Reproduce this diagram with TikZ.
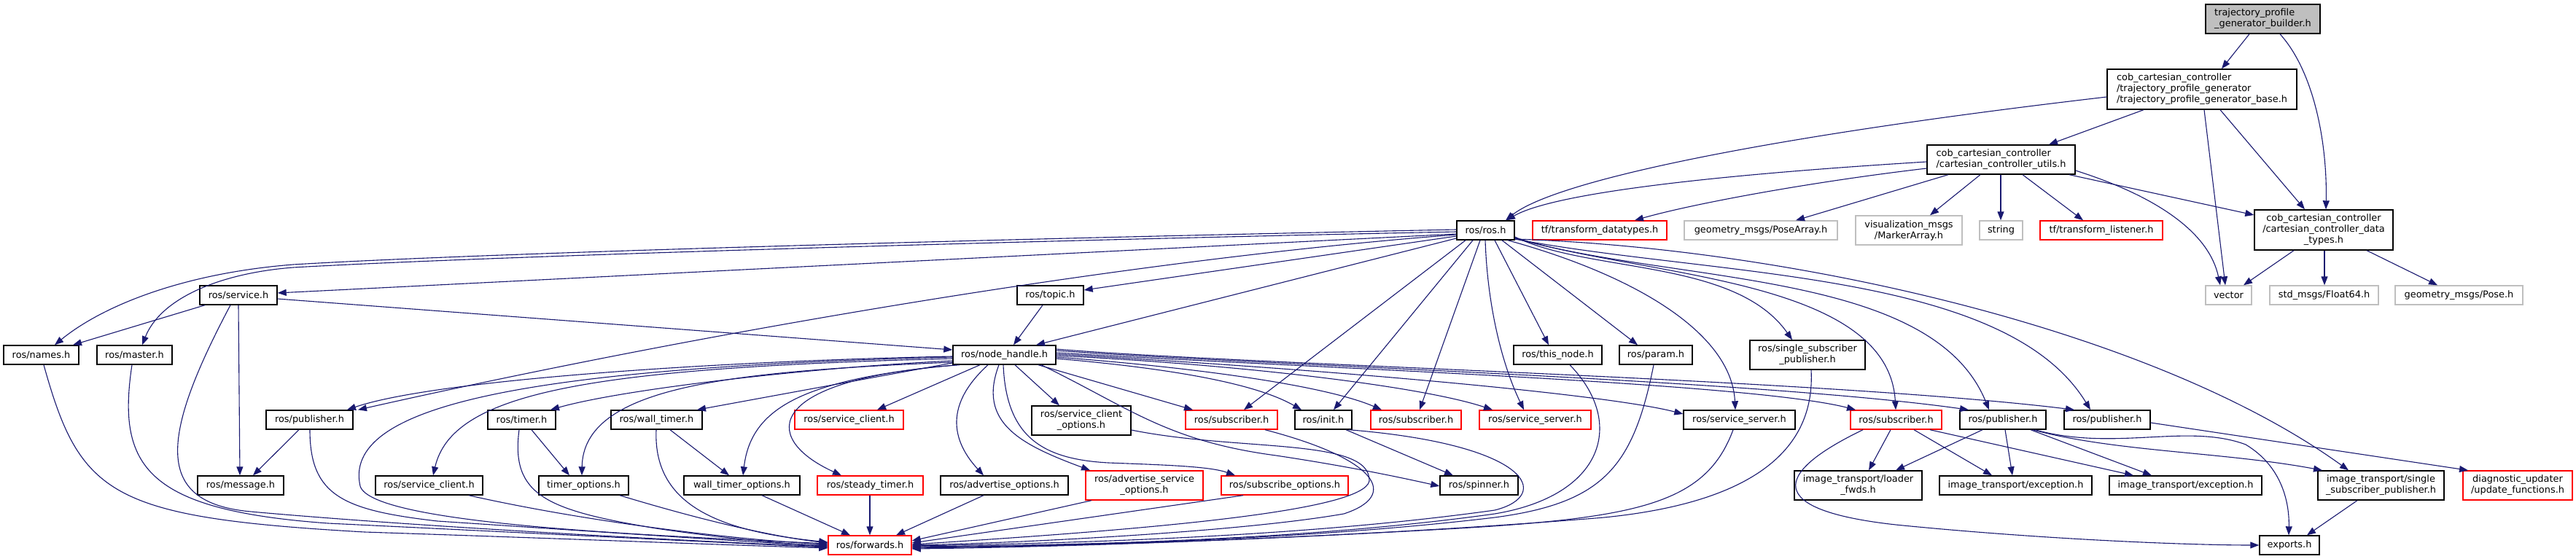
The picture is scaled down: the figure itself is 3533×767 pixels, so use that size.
\documentclass[tikz,border=0pt]{standalone}
\usepackage{fontspec}
\setmainfont{DejaVu Sans}
\usetikzlibrary{arrows.meta}
\definecolor{edgec}{HTML}{191970}
\definecolor{grayb}{HTML}{BFBFBF}
\newcommand\dgbox[7]{\node[#6, minimum width={(#3-#2)*1pt}, minimum height={(#5-#4)*1pt}] (#1) at ({(#2+#3)/2},{(#4+#5)/2}) {#7};}
\begin{document}
\begin{tikzpicture}[x=1pt,y=-1pt,
  bk/.style={draw=black, line width=1.4pt, inner sep=0pt, align=center, font=\fontsize{12.9}{15}\selectfont},
  rd/.style={bk, draw=red},
  gy/.style={bk, draw=grayb},
  rt/.style={bk, fill=grayb},
  e/.style={draw=edgec, line width=1.1pt, -{Triangle[length=12pt,width=9pt]}}]
\path[fill=white, use as bounding box] (0,0) rectangle (3533,767);
% nodes
\dgbox{builder}{3025}{3182}{6}{46}{rt, align=left}{trajectory\_profile\\\_generator\_builder.h}
\dgbox{base}{2890}{3150}{95}{150}{bk, align=left}{cob\_cartesian\_controller\\/trajectory\_profile\_generator\\/trajectory\_profile\_generator\_base.h}
\dgbox{utils}{2643}{2846}{199}{239}{bk, align=left}{cob\_cartesian\_controller\\/cartesian\_controller\_utils.h}
\dgbox{rosh}{1998}{2077}{303}{329}{bk}{ros/ros.h}
\dgbox{tfd}{2102}{2286}{303}{329}{rd}{tf/transform\_datatypes.h}
\dgbox{posearr}{2310}{2520}{303}{329}{gy}{geometry\_msgs/PoseArray.h}
\dgbox{marker}{2545}{2691}{296}{336}{gy}{visualization\_msgs\\/MarkerArray.h}
\dgbox{string}{2715}{2774}{303}{329}{gy}{string}
\dgbox{listener}{2798}{2966}{303}{329}{rd}{tf/transform\_listener.h}
\dgbox{dtypes}{3092}{3282}{288}{343}{bk}{cob\_cartesian\_controller\\/cartesian\_controller\_data\\\_types.h}
\dgbox{service}{274}{380}{392}{418}{bk}{ros/service.h}
\dgbox{topic}{1395}{1486}{392}{418}{bk}{ros/topic.h}
\dgbox{vector}{3025}{3088}{392}{418}{gy}{vector}
\dgbox{float}{3113}{3262}{392}{418}{gy}{std\_msgs/Float64.h}
\dgbox{pose}{3285}{3460}{392}{418}{gy}{geometry\_msgs/Pose.h}
\dgbox{names}{5}{108}{474}{500}{bk}{ros/names.h}
\dgbox{master}{133}{236}{474}{500}{bk}{ros/master.h}
\dgbox{nh}{1307}{1448}{474}{500}{bk}{ros/node\_handle.h}
\dgbox{thisnode}{2076}{2197}{474}{500}{bk}{ros/this\_node.h}
\dgbox{param}{2221}{2321}{474}{500}{bk}{ros/param.h}
\dgbox{ssp}{2400}{2558}{467}{507}{bk}{ros/single\_subscriber\\\_publisher.h}
\dgbox{pubL}{365}{484}{563}{589}{bk}{ros/publisher.h}
\dgbox{timer}{669}{762}{563}{589}{bk}{ros/timer.h}
\dgbox{wtimer}{838}{963}{563}{589}{bk}{ros/wall\_timer.h}
\dgbox{scA}{1090}{1239}{563}{589}{rd}{ros/service\_client.h}
\dgbox{sco}{1415}{1551}{557}{597}{bk}{ros/service\_client\\\_options.h}
\dgbox{subA}{1626}{1752}{563}{589}{rd}{ros/subscriber.h}
\dgbox{init}{1776}{1854}{563}{589}{bk}{ros/init.h}
\dgbox{subB}{1880}{2004}{563}{589}{rd}{ros/subscriber.h}
\dgbox{ssA}{2029}{2182}{563}{589}{rd}{ros/service\_server.h}
\dgbox{ssB}{2309}{2462}{563}{589}{bk}{ros/service\_server.h}
\dgbox{subC}{2538}{2663}{563}{589}{rd}{ros/subscriber.h}
\dgbox{pubB}{2688}{2806}{563}{589}{bk}{ros/publisher.h}
\dgbox{pubC}{2831}{2949}{563}{589}{bk}{ros/publisher.h}
\dgbox{message}{271}{389}{653}{679}{bk}{ros/message.h}
\dgbox{scB}{515}{662}{653}{679}{bk}{ros/service\_client.h}
\dgbox{topt}{739}{862}{653}{679}{bk}{timer\_options.h}
\dgbox{wtopt}{938}{1097}{653}{679}{bk}{wall\_timer\_options.h}
\dgbox{steady}{1121}{1266}{653}{679}{rd}{ros/steady\_timer.h}
\dgbox{adv}{1290}{1465}{653}{679}{bk}{ros/advertise\_options.h}
\dgbox{aso}{1489}{1650}{646}{686}{rd}{ros/advertise\_service\\\_options.h}
\dgbox{subopt}{1675}{1849}{653}{679}{rd}{ros/subscribe\_options.h}
\dgbox{spinner}{1975}{2082}{653}{679}{bk}{ros/spinner.h}
\dgbox{loader}{2461}{2636}{646}{686}{bk}{image\_transport/loader\\\_fwds.h}
\dgbox{excA}{2660}{2869}{653}{679}{bk}{image\_transport/exception.h}
\dgbox{excB}{2893}{3102}{653}{679}{bk}{image\_transport/exception.h}
\dgbox{itssp}{3179}{3352}{646}{686}{bk}{image\_transport/single\\\_subscriber\_publisher.h}
\dgbox{diag}{3378}{3528}{646}{686}{rd}{diagnostic\_updater\\/update\_functions.h}
\dgbox{fwd}{1136}{1250}{735}{761}{rd}{ros/forwards.h}
\dgbox{exports}{3099}{3181}{735}{761}{bk}{exports.h}
% builder
\draw[e] (builder.south -| 3085,0) -- (base.north -| 3047,0);
\draw[e] (builder.south -| 3127,0) .. controls (3175,100) and (3192,200) .. (dtypes.north -| 3190,0);
% base
\draw[e] (base.west |- 0,133) .. controls (2400,190) and (2130,250) .. (rosh.north -| 2065,0);
\draw[e] (base.south -| 2940,0) -- (utils.north -| 2810,0);
\draw[e] (base.south -| 3023,0) -- (vector.north -| 3052,0);
\draw[e] (base.south -| 3045,0) -- (dtypes.north -| 3161,0);
% utils
\draw[e] (utils.west |- 0,222) .. controls (2350,240) and (2130,265) .. (rosh.north -| 2066,0);
\draw[e] (utils.west |- 0,231) .. controls (2480,250) and (2320,280) .. (tfd.north -| 2242,0);
\draw[e] (utils.south -| 2672,0) -- (posearr.north -| 2463,0);
\draw[e] (utils.south -| 2716,0) -- (marker.north -| 2647,0);
\draw[e] (utils.south -| 2744,0) -- (string.north -| 2744,0);
\draw[e] (utils.south -| 2774,0) -- (listener.north -| 2857,0);
\draw[e] (utils.south -| 2838,0) -- (dtypes.west |- 0,295);
\draw[e] (utils.east |- 0,234) .. controls (2960,270) and (3030,320) .. (vector.north -| 3045,0);
% data types
\draw[e] (dtypes.south -| 3146,0) -- (vector.north -| 3077,0);
\draw[e] (dtypes.south -| 3188,0) -- (float.north -| 3188,0);
\draw[e] (dtypes.south -| 3246,0) -- (pose.north -| 3343,0);
% ros.h to the left
\draw[e] (rosh.west |- 0,315) .. controls (1500,325) and (700,345) .. (402,363) .. controls (250,375) and (140,420) .. (names.north -| 75,0);
\draw[e] (rosh.west |- 0,318) .. controls (1500,328) and (700,350) .. (402,367) .. controls (300,375) and (220,410) .. (master.north -| 195,0);
\draw[e] (rosh.west |- 0,321) -- (service.east |- 0,402);
\draw[e] (rosh.west |- 0,324) -- (topic.east |- 0,398);
\draw[e] (rosh.west |- 0,327) -- (nh.north -| 1421,0);
\draw[e] (rosh.west |- 0,322) .. controls (1500,360) and (900,470) .. (pubL.north -| 491,0);
% ros.h downwards
\draw[e] (rosh.south -| 2010,0) -- (subA.north -| 1706,0);
\draw[e] (rosh.south -| 2020,0) -- (init.north -| 1829,0);
\draw[e] (rosh.south -| 2030,0) -- (subB.north -| 1947,0);
\draw[e] (rosh.south -| 2037,0) .. controls (2040,420) and (2060,500) .. (ssA.north -| 2090,0);
\draw[e] (rosh.south -| 2050,0) -- (thisnode.north -| 2124,0);
\draw[e] (rosh.south -| 2060,0) -- (param.north -| 2246,0);
\draw[e] (rosh.south -| 2068,0) .. controls (2250,380) and (2375,460) .. (ssB.north -| 2380,0);
\draw[e] (rosh.east |- 0,325) .. controls (2180,375) and (2380,355) .. (ssp.north -| 2458,0);
\draw[e] (rosh.east |- 0,326) .. controls (2250,380) and (2590,380) .. (subC.north -| 2600,0);
\draw[e] (rosh.east |- 0,327) .. controls (2300,390) and (2650,370) .. (pubB.north -| 2728,0);
\draw[e] (rosh.east |- 0,328) .. controls (2350,380) and (2750,370) .. (pubC.north -| 2867,0);
\draw[e] (rosh.east |- 0,328) .. controls (2450,340) and (2950,450) .. (itssp.north -| 3221,0);
% node_handle
\draw[e] (nh.west |- 0,489) .. controls (1000,495) and (600,520) .. (pubL.north -| 476,0);
\draw[e] (nh.west |- 0,495) .. controls (1100,505) and (850,535) .. (timer.north -| 755,0);
\draw[e] (nh.west |- 0,492) .. controls (800,505) and (620,540) .. (scB.north -| 594,0);
\draw[e] (nh.west |- 0,497) .. controls (1000,510) and (800,530) .. (topt.north -| 798,0);
\draw[e] (nh.west |- 0,490) .. controls (700,505) and (470,560) .. (494,667) .. controls (510,720) and (900,735) .. (fwd.west |- 0,746);
\draw[e] (nh.west |- 0,498) -- (wtimer.north -| 956,0);
\draw[e] (nh.south -| 1312,0) .. controls (1100,520) and (1030,560) .. (wtopt.north -| 1019,0);
\draw[e] (nh.south -| 1316,0) .. controls (1050,520) and (1040,600) .. (steady.north -| 1154,0);
\draw[e] (nh.south -| 1344,0) -- (scA.north -| 1203,0);
\draw[e] (nh.south -| 1355,0) .. controls (1290,560) and (1310,610) .. (adv.north -| 1349,0);
\draw[e] (nh.south -| 1370,0) .. controls (1340,580) and (1400,610) .. (aso.north -| 1495,0);
\draw[e] (nh.south -| 1376,0) .. controls (1380,600) and (1430,630) .. (1520,635) .. controls (1600,638) and (1660,640) .. (subopt.north -| 1694,0);
\draw[e] (nh.south -| 1392,0) -- (sco.north -| 1453,0);
\draw[e] (nh.south -| 1424,0) -- (subA.north -| 1636,0);
\draw[e] (nh.south -| 1428,0) .. controls (1550,560) and (1600,605) .. (1750,625) .. controls (1850,640) and (1920,655) .. (spinner.west |- 0,667);
\draw[e] (nh.east |- 0,492) .. controls (1600,505) and (1720,525) .. (init.north -| 1785,0);
\draw[e] (nh.east |- 0,490) .. controls (1650,505) and (1820,530) .. (subB.north -| 1895,0);
\draw[e] (nh.east |- 0,488) .. controls (1700,500) and (1950,530) .. (ssA.north -| 2047,0);
\draw[e] (nh.east |- 0,486) .. controls (1800,505) and (2200,540) .. (ssB.west |- 0,568);
\draw[e] (nh.east |- 0,484) .. controls (1800,505) and (2400,525) .. (subC.north -| 2545,0);
\draw[e] (nh.east |- 0,481) .. controls (1700,500) and (2400,520) .. (pubB.north -| 2700,0);
\draw[e] (nh.east |- 0,479) .. controls (1700,500) and (2500,520) .. (pubC.north -| 2845,0);
% other
\draw[e] (topic.south -| 1430,0) -- (nh.north -| 1390,0);
\draw[e] (service.east |- 0,410) -- (nh.west |- 0,480);
\draw[e] (service.south -| 281,0) -- (names.north -| 100,0);
\draw[e] (service.south -| 327,0) -- (message.north -| 329,0);
\draw[e] (service.south -| 316,0) .. controls (220,600) and (210,690) .. (344,702) .. controls (600,725) and (1000,745) .. (fwd.west |- 0,750);
\draw[e] (names.south -| 60,0) .. controls (110,680) and (150,710) .. (500,730) .. controls (800,740) and (1000,748) .. (fwd.west |- 0,752);
\draw[e] (master.south -| 181,0) .. controls (160,640) and (200,700) .. (450,718) .. controls (800,735) and (1000,745) .. (fwd.west |- 0,751);
\draw[e] (pubL.south -| 410,0) -- (message.north -| 347,0);
\draw[e] (pubL.south -| 425,0) .. controls (425,680) and (470,700) .. (600,715) .. controls (900,735) and (1050,745) .. (fwd.west |- 0,749);
\draw[e] (timer.south -| 729,0) -- (topt.north -| 781,0);
\draw[e] (timer.south -| 712,0) .. controls (700,680) and (750,700) .. (900,725) .. controls (1000,740) and (1100,748) .. (fwd.west |- 0,748);
\draw[e] (scB.south -| 643,0) .. controls (800,715) and (1000,740) .. (fwd.west |- 0,747);
\draw[e] (topt.south -| 850,0) .. controls (950,710) and (1050,735) .. (fwd.west |- 0,745);
\draw[e] (wtimer.south -| 919,0) -- (wtopt.north -| 1000,0);
\draw[e] (wtimer.south -| 900,0) .. controls (895,700) and (1000,730) .. (fwd.west |- 0,744);
\draw[e] (wtopt.south -| 1045,0) -- (fwd.north -| 1166,0);
\draw[e] (steady.south -| 1193,0) -- (fwd.north -| 1193,0);
\draw[e] (adv.south -| 1349,0) -- (fwd.north -| 1229,0);
\draw[e] (aso.south -| 1497,0) -- (fwd.east |- 0,742);
\draw[e] (subopt.south -| 1705,0) -- (fwd.east |- 0,745);
\draw[e] (sco.east |- 0,590) .. controls (1700,620) and (1880,600) .. (1878,660) .. controls (1870,700) and (1600,725) .. (fwd.east |- 0,747);
\draw[e] (subA.south -| 1735,0) .. controls (1890,630) and (1920,680) .. (1843,705) .. controls (1700,730) and (1400,745) .. (fwd.east |- 0,748);
\draw[e] (init.south -| 1846,0) -- (spinner.north -| 1993,0);
\draw[e] (init.south -| 1850,0) .. controls (2100,610) and (2130,680) .. (2050,700) .. controls (1800,735) and (1500,745) .. (fwd.east |- 0,749);
\draw[e] (thisnode.south -| 2153,0) .. controls (2230,580) and (2200,680) .. (2050,705) .. controls (1800,740) and (1500,748) .. (fwd.east |- 0,750);
\draw[e] (param.south -| 2268,0) .. controls (2240,640) and (2200,690) .. (2050,710) .. controls (1800,740) and (1500,748) .. (fwd.east |- 0,751);
\draw[e] (ssB.south -| 2377,0) .. controls (2340,690) and (2250,710) .. (2000,725) .. controls (1700,742) and (1450,750) .. (fwd.east |- 0,752);
\draw[e] (ssp.south -| 2484,0) .. controls (2490,620) and (2400,690) .. (2200,710) .. controls (1900,735) and (1500,750) .. (fwd.east |- 0,753);
\draw[e] (subC.south -| 2593,0) -- (loader.north -| 2563,0);
\draw[e] (subC.south -| 2625,0) -- (excA.north -| 2732,0);
\draw[e] (subC.south -| 2647,0) -- (excB.north -| 2926,0);
\draw[e] (subC.south -| 2555,0) .. controls (2430,650) and (2420,700) .. (2600,720) .. controls (2800,740) and (3000,748) .. (exports.west |- 0,748);
\draw[e] (pubB.south -| 2719,0) -- (loader.north -| 2600,0);
\draw[e] (pubB.south -| 2750,0) -- (excA.north -| 2760,0);
\draw[e] (pubB.south -| 2785,0) -- (excB.north -| 2951,0);
\draw[e] (pubB.south -| 2788,0) .. controls (2900,620) and (3050,620) .. (itssp.north -| 3185,0);
\draw[e] (pubB.south -| 2791,0) .. controls (2900,620) and (3000,580) .. (3080,610) .. controls (3130,640) and (3140,690) .. (exports.north -| 3139,0);
\draw[e] (pubC.east |- 0,580) -- (diag.north -| 3385,0);
\draw[e] (itssp.south -| 3233,0) -- (exports.north -| 3164,0);
\end{tikzpicture}
\end{document}
